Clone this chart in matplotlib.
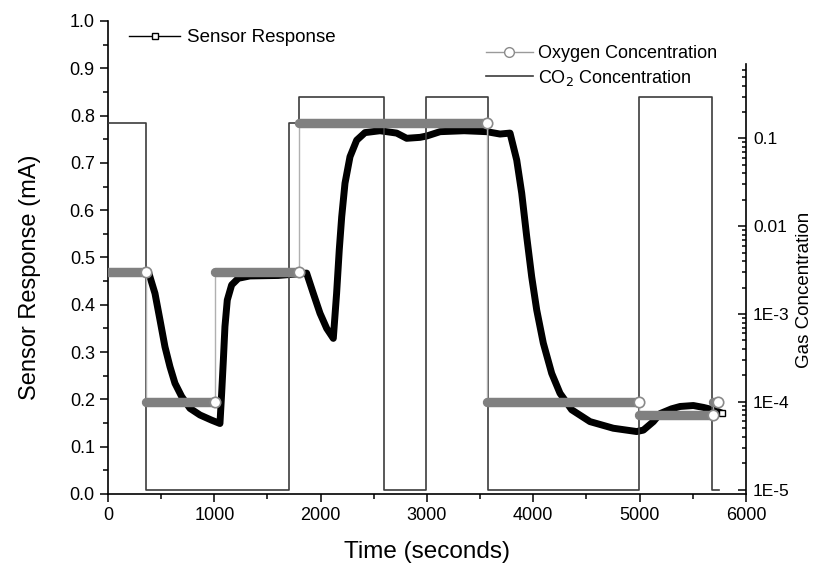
import numpy as np
import matplotlib
matplotlib.use("Agg")
import matplotlib.pyplot as plt
from matplotlib.lines import Line2D
from matplotlib.ticker import MultipleLocator, FixedLocator, NullFormatter, FormatStrFormatter

plt.rcParams['font.family'] = ['Liberation Sans', 'DejaVu Sans']

# sensor response (mA), left axis
sensor_t = [0, 200, 380, 442, 489, 536, 583, 630, 693, 771, 865, 975, 1053, 1069, 1085,
            1100, 1122, 1163, 1226, 1335, 1600, 1868, 1931, 1994, 2057, 2119, 2150,
            2175, 2198, 2229, 2276, 2339, 2417, 2558, 2715, 2809, 2935, 3000, 3123,
            3350, 3562, 3687, 3781, 3844, 3891, 3938, 3985, 4032, 4094, 4173, 4251,
            4361, 4533, 4752, 4972, 5035, 5129, 5193, 5300, 5381, 5505, 5600, 5692, 5773]
sensor_v = [0.47, 0.47, 0.47, 0.424, 0.368, 0.311, 0.269, 0.234, 0.206, 0.181, 0.167,
            0.156, 0.149, 0.213, 0.283, 0.354, 0.41, 0.442, 0.456, 0.461, 0.462, 0.467,
            0.424, 0.382, 0.35, 0.329, 0.424, 0.516, 0.586, 0.657, 0.713, 0.748, 0.764,
            0.768, 0.763, 0.752, 0.754, 0.757, 0.766, 0.768, 0.766, 0.761, 0.763, 0.706,
            0.636, 0.544, 0.459, 0.389, 0.319, 0.255, 0.213, 0.178, 0.153, 0.139, 0.132,
            0.135, 0.153, 0.17, 0.18, 0.185, 0.187, 0.183, 0.178, 0.171]

# oxygen concentration steps (right axis, log)
o2_start = [0, 355, 1007, 1800, 3565, 4995, 5692]
o2_end = [355, 1007, 1800, 3565, 4995, 5692, 5740]
o2_level = [3e-3, 1e-4, 3e-3, 0.15, 1e-4, 7e-5, 1e-4]

# CO2 concentration steps (right axis, log)
co2_t = [0, 355, 1703, 1797, 2597, 2992, 3575, 4995, 5682, 5748]
co2_level = [0.15, 1e-5, 0.15, 0.3, 1e-5, 0.3, 1e-5, 0.3, 1e-5, 1e-5]

fig = plt.figure(figsize=(8.15, 5.63), dpi=100)
ax = fig.add_axes([0.1325, 0.1226, 0.7828, 0.8401])
ax2 = ax.twinx()

# sensor curve
ax.plot(sensor_t, sensor_v, color='black', lw=5, solid_capstyle='round',
        solid_joinstyle='round', zorder=2)
ax.plot(sensor_t[-1], sensor_v[-1], 's', ms=4, mfc='white', mec='black', mew=1, zorder=3)

ax.set_xlim(0, 6000)
ax.set_ylim(0, 1.0)
ax.xaxis.set_major_locator(MultipleLocator(1000))
ax.xaxis.set_minor_locator(MultipleLocator(500))
ax.yaxis.set_major_locator(MultipleLocator(0.1))
ax.yaxis.set_minor_locator(MultipleLocator(0.05))
ax.yaxis.set_major_formatter(FormatStrFormatter('%.1f'))
ax.tick_params(which='major', direction='out', length=6, width=1.1, labelsize=13)
ax.tick_params(which='minor', direction='out', length=3.5, width=1.1)
ax.spines['top'].set_visible(False)
ax.spines['right'].set_visible(False)
for s in ['left', 'bottom']:
    ax.spines[s].set_linewidth(1.2)
ax.set_xlabel('Time (seconds)', fontsize=17.5, labelpad=12)
ax.set_ylabel('Sensor Response (mA)', fontsize=17)
ax.yaxis.set_label_coords(-0.105, 0.459)

# gas concentrations on log axis
ax2.set_yscale('log')
ax2.set_ylim(8.9e-6, 2.18)
ax2.step(co2_t, co2_level, where='post', color='#3c3c3c', lw=1.2, zorder=2)

o2_t = o2_start + [o2_end[-1]]
o2_steps = o2_level + [o2_level[-1]]
ax2.step(o2_t, o2_steps, where='post', color='#b0b0b0', lw=1, zorder=3)
ax2.hlines(o2_level, o2_start, o2_end, color='#808080', lw=6.8, capstyle='round', zorder=4)
ax2.plot(o2_end, o2_level, 'o', ms=7.5, mfc='white', mec='#8a8a8a', mew=1.2, zorder=5)

ax2.spines['top'].set_visible(False)
ax2.spines['left'].set_visible(False)
ax2.spines['bottom'].set_visible(False)
ax2.spines['right'].set_linewidth(1.2)
ax2.spines['right'].set_bounds(8.9e-6, 0.7)
ax2.yaxis.set_major_locator(FixedLocator([1e-5, 1e-4, 1e-3, 1e-2, 1e-1]))
ax2.set_yticklabels(['1E-5', '1E-4', '1E-3', '0.01', '0.1'])
minor = [m * 10.0 ** e for e in range(-5, 0) for m in range(2, 10) if m * 10.0 ** e <= 0.7]
ax2.yaxis.set_minor_locator(FixedLocator(minor))
ax2.yaxis.set_minor_formatter(NullFormatter())
ax2.tick_params(which='major', direction='in', length=6, width=1.1, labelsize=12.5, pad=5)
ax2.tick_params(which='minor', direction='in', length=3, width=1.1)
ax2.set_ylabel('Gas Concentration', fontsize=13.5)
ax2.yaxis.set_label_coords(1.078, 0.431)

# legends
h1 = [Line2D([], [], color='black', lw=1, marker='s', ms=4, mfc='white', mec='black')]
fig.legend(h1, ['Sensor Response'], loc='center left', bbox_to_anchor=(0.138, 0.933),
           frameon=False, fontsize=13.5, handlelength=2.7, handletextpad=0.4)
h2 = [Line2D([], [], color='#9a9a9a', lw=1, marker='o', ms=7, mfc='white', mec='#8a8a8a'),
      Line2D([], [], color='#3c3c3c', lw=1.2)]
fig.legend(h2, ['Oxygen Concentration', 'CO$_2$ Concentration'], loc='center left',
           bbox_to_anchor=(0.576, 0.882), frameon=False, fontsize=13,
           handlelength=2.6, handletextpad=0.3, labelspacing=0.3)

fig.savefig('out.png', dpi=100)
